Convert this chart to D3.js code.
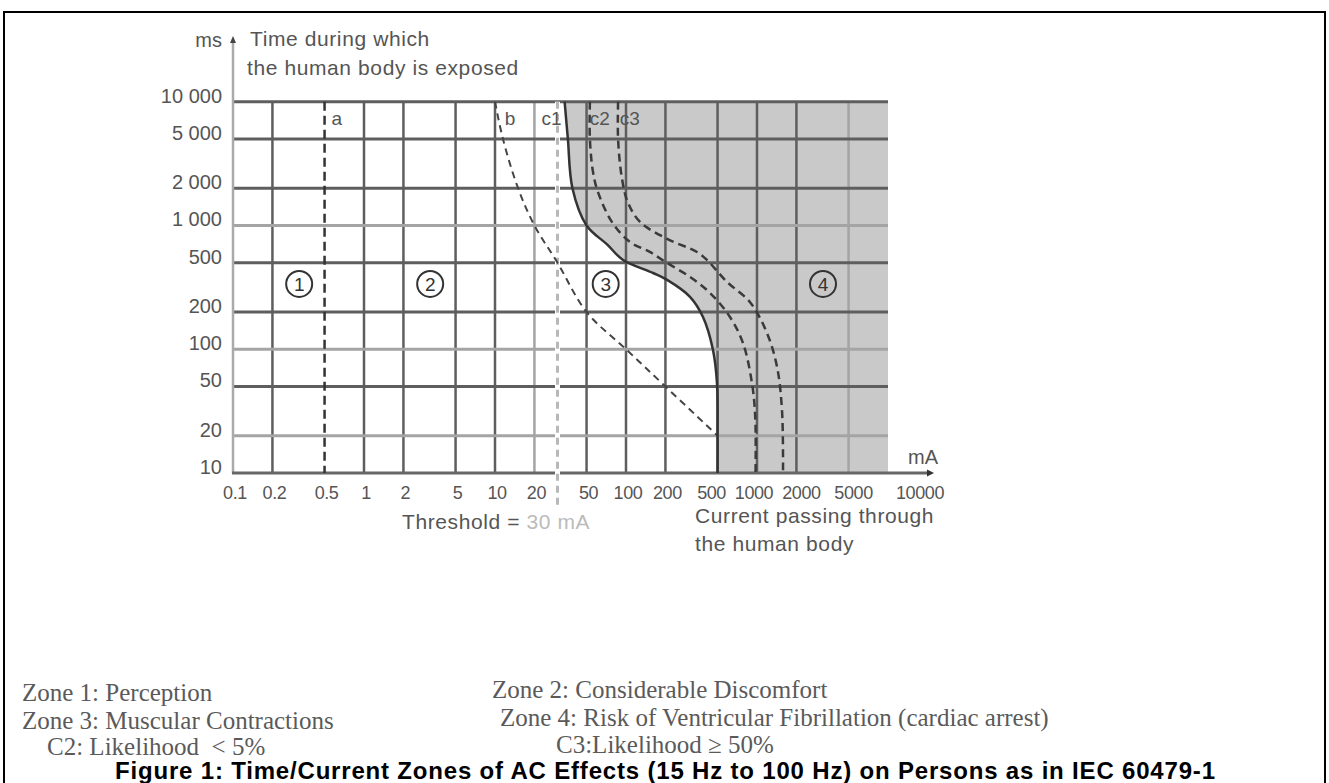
<!DOCTYPE html>
<html>
<head>
<meta charset="utf-8">
<script src="https://cdn.jsdelivr.net/npm/d3@7"></script>
<style>
  body { margin: 0; background: #fff; }
  svg { display: block; }
  .lbl { font-family: "Liberation Sans", Arial, sans-serif; fill: #555; }
  .title { font-size: 21px; letter-spacing: 0.6px; }
  .note { font-family: "Liberation Serif", "Times New Roman", serif; fill: #5a5a5a; font-size: 25px; }
  .caption { font-family: "Liberation Sans", Arial, sans-serif; font-weight: bold; font-size: 24px; fill: #000; }
</style>
</head>
<body>
<svg id="canvas" width="1329" height="783"></svg>
<script>
// current passing through the body, mA (grid columns)
let currentTicks = [0.1, 0.2, 0.5, 1, 2, 5, 10, 20, 50, 100, 200, 500, 1000, 2000, 5000, 10000];
let currentLabels = ['0.1', '0.2', '0.5', '1', '2', '5', '10', '20', '50', '100', '200', '500', '1000', '2000', '5000', '10000'];
// exposure time, ms (grid rows)
let timeTicks = [10, 20, 50, 100, 200, 500, 1000, 2000, 5000, 10000];
let timeLabels = ['10', '20', '50', '100', '200', '500', '1 000', '2 000', '5 000', '10 000'];

let thresholdCurrent = 30;

// boundary curves as [mA, ms]
let curveA = [[0.5, 10000], [0.5, 10]];
let curveB = [[10, 10000], [11.5, 5000], [15, 2000], [20, 1000], [30, 500], [50, 200], [100, 100], [200, 50], [500, 20]];
let curveC1 = [[34, 10000], [36, 5000], [39, 2000], [50, 1000], [72, 700], [95, 526], [161, 413], [206, 363], [308, 265], [387, 182], [461, 99], [495, 53], [500, 21], [500, 10]];
let curveC2 = [[53, 10000], [53, 5000], [56, 2700], [61, 1870], [78, 1070], [107, 736], [152, 611], [206, 498], [308, 384], [438, 285], [622, 182], [782, 112], [916, 53], [970, 28], [975, 10]];
let curveC3 = [[87, 10000], [87, 5000], [93, 2420], [103, 1550], [128, 1067], [206, 780], [348, 611], [415, 526], [590, 350], [885, 240], [1192, 135], [1422, 72], [1552, 32], [1580, 10]];

let curveNames = ['a', 'b', 'c1', 'c2', 'c3'];
let curveNameAt = [[0.62, 7400], [13, 7400], [27, 7400], [63, 7400], [107, 7400]];

let zoneNames = ['1', '2', '3', '4'];
let zoneAt = [[0.32, 337], [3.2, 337], [70, 337], [3190, 337]];

let notes = [
  'Zone 1: Perception',
  'Zone 2: Considerable Discomfort',
  'Zone 3: Muscular Contractions',
  'Zone 4: Risk of Ventricular Fibrillation (cardiac arrest)',
  'C2: Likelihood \u00a0< 5%',
  'C3:Likelihood \u2265 50%'
];
let caption = 'Figure 1: Time/Current Zones of AC Effects (15 Hz to 100 Hz) on Persons as in IEC 60479-1';

const svg = d3.select('#canvas');

const x = d3.scaleLog().domain([0.1, 10000]).range([233, 888]);
const y = d3.scaleLog().domain([10, 10000]).range([473, 101.7]);

// frame
svg.append('rect')
  .attr('x', 4).attr('y', 12).attr('width', 1321).attr('height', 800)
  .attr('fill', 'none').attr('stroke', '#000').attr('stroke-width', 2);

const line = d3.line()
  .x(d => x(d[0]))
  .y(d => y(d[1]))
  .curve(d3.curveCatmullRom.alpha(0.5));

// zone 4 shading, right of c1
svg.append('path')
  .attr('d', line(curveC1) + `L${x(10000)},${y(10)}L${x(10000)},${y(10000)}Z`)
  .attr('fill', '#c9c9c9');

// grid
const faintCurrent = new Set([20, 5000]);
const faintTime = new Set([20, 100, 1000]);

svg.append('g').selectAll('line')
  .data(currentTicks.filter(v => v !== 0.1 && v !== 0.5 && v !== 10000))
  .enter().append('line')
  .attr('x1', d => x(d)).attr('x2', d => x(d))
  .attr('y1', y(10000)).attr('y2', y(10))
  .attr('stroke', d => faintCurrent.has(d) ? '#a4a4a4' : '#5e5e5e')
  .attr('stroke-width', 2.5);

svg.append('g').selectAll('line')
  .data(timeTicks.filter(v => v !== 10))
  .enter().append('line')
  .attr('x1', x(0.1)).attr('x2', x(10000))
  .attr('y1', d => y(d)).attr('y2', d => y(d))
  .attr('stroke', d => faintTime.has(d) ? '#a4a4a4' : '#5e5e5e')
  .attr('stroke-width', 3);

// axes with arrows
svg.append('line')
  .attr('x1', x(0.1)).attr('x2', x(0.1))
  .attr('y1', y(10)).attr('y2', 42)
  .attr('stroke', '#aaa').attr('stroke-width', 2.5);
svg.append('path')
  .attr('d', `M${x(0.1)},36 l-3,7 h6 Z`)
  .attr('fill', '#444');

svg.append('line')
  .attr('x1', x(0.1) - 1).attr('x2', 928)
  .attr('y1', y(10)).attr('y2', y(10))
  .attr('stroke', '#666').attr('stroke-width', 3);
svg.append('path')
  .attr('d', `M934,${y(10)} l-7,-3.5 v7 Z`)
  .attr('fill', '#333');

// threshold line at 30 mA
svg.append('line')
  .attr('x1', x(thresholdCurrent)).attr('x2', x(thresholdCurrent))
  .attr('y1', y(10000)).attr('y2', y(10) + 32)
  .attr('stroke', '#fff').attr('stroke-width', 5);
svg.append('line')
  .attr('x1', x(thresholdCurrent)).attr('x2', x(thresholdCurrent))
  .attr('y1', y(10000)).attr('y2', y(10) + 32)
  .attr('stroke', '#b8b8b8').attr('stroke-width', 3)
  .attr('stroke-dasharray', '7,5');

// curves
svg.append('path').attr('d', line(curveA))
  .attr('fill', 'none').attr('stroke', '#333').attr('stroke-width', 2.5)
  .attr('stroke-dasharray', '9,5');
svg.append('path').attr('d', line(curveB))
  .attr('fill', 'none').attr('stroke', '#444').attr('stroke-width', 2)
  .attr('stroke-dasharray', '7,5');
svg.append('path').attr('d', line(curveC1))
  .attr('fill', 'none').attr('stroke', '#333').attr('stroke-width', 2.5);
svg.append('path').attr('d', line(curveC2))
  .attr('fill', 'none').attr('stroke', '#3a3a3a').attr('stroke-width', 2.5)
  .attr('stroke-dasharray', '8,5');
svg.append('path').attr('d', line(curveC3))
  .attr('fill', 'none').attr('stroke', '#3a3a3a').attr('stroke-width', 2.5)
  .attr('stroke-dasharray', '8,5');

// curve names
svg.append('g').selectAll('text')
  .data(curveNames)
  .enter().append('text')
  .attr('class', 'lbl')
  .attr('x', (d, i) => x(curveNameAt[i][0]))
  .attr('y', (d, i) => y(curveNameAt[i][1]))
  .attr('text-anchor', 'middle')
  .attr('dy', '0.35em')
  .style('font-size', '19px')
  .text(d => d);

// zone markers
const zones = svg.append('g').selectAll('g')
  .data(zoneNames)
  .enter().append('g')
  .attr('transform', (d, i) => `translate(${x(zoneAt[i][0])},${y(zoneAt[i][1])})`);
zones.append('circle')
  .attr('r', 13)
  .attr('fill', 'none').attr('stroke', '#333').attr('stroke-width', 2);
zones.append('text')
  .attr('class', 'lbl')
  .attr('text-anchor', 'middle')
  .attr('dy', '0.36em')
  .style('font-size', '19px').style('fill', '#333')
  .text(d => d);

// x tick labels (the crowded ones on the right are spread a little)
const nudge = v => v === 500 ? -6 : v === 1000 ? -3 : v >= 2000 ? 5 : 2;
svg.append('g').selectAll('text')
  .data(currentTicks)
  .enter().append('text')
  .attr('class', 'lbl')
  .attr('x', (d, i) => i === currentTicks.length - 1 ? x(d) + 8 : x(d) + nudge(d))
  .attr('y', 499)
  .attr('text-anchor', (d, i) => i === currentTicks.length - 1 ? 'start' : 'middle')
  .style('font-size', '18px')
  .style('letter-spacing', '-0.4px')
  .text((d, i) => currentLabels[i]);

// y tick labels
svg.append('g').selectAll('text')
  .data(timeTicks)
  .enter().append('text')
  .attr('class', 'lbl')
  .attr('x', 222)
  .attr('y', d => y(d) - 6)
  .attr('dy', '0.35em')
  .attr('text-anchor', 'end')
  .style('font-size', '20px')
  .text((d, i) => timeLabels[i]);

// axis titles
svg.append('text').attr('class', 'lbl')
  .attr('x', 222).attr('y', 47).attr('text-anchor', 'end')
  .style('font-size', '20px').text('ms');
svg.append('text').attr('class', 'lbl title')
  .attr('x', 250).attr('y', 46)
  .text('Time during which');
svg.append('text').attr('class', 'lbl title')
  .attr('x', 247).attr('y', 75)
  .text('the human body is exposed');

svg.append('text').attr('class', 'lbl')
  .attr('x', 938).attr('y', 464).attr('text-anchor', 'end')
  .style('font-size', '20px').text('mA');

const thr = svg.append('text').attr('class', 'lbl title')
  .attr('x', 402).attr('y', 529);
thr.append('tspan').text('Threshold = ');
thr.append('tspan').style('fill', '#bbb').text(thresholdCurrent + ' mA');

svg.append('text').attr('class', 'lbl title')
  .attr('x', 695).attr('y', 523)
  .text('Current passing through');
svg.append('text').attr('class', 'lbl title')
  .attr('x', 695).attr('y', 551)
  .text('the human body');

// zone notes below the chart
const noteAt = [[22, 701], [492, 698], [22, 729], [500, 726], [47, 755], [556, 753]];
svg.append('g').selectAll('text')
  .data(notes)
  .enter().append('text')
  .attr('class', 'note')
  .attr('x', (d, i) => noteAt[i][0])
  .attr('y', (d, i) => noteAt[i][1])
  .text(d => d);

svg.append('text').attr('class', 'caption')
  .attr('x', 665).attr('y', 779).attr('text-anchor', 'middle')
  .attr('textLength', 1100).attr('lengthAdjust', 'spacing')
  .text(caption);
</script>
</body>
</html>
